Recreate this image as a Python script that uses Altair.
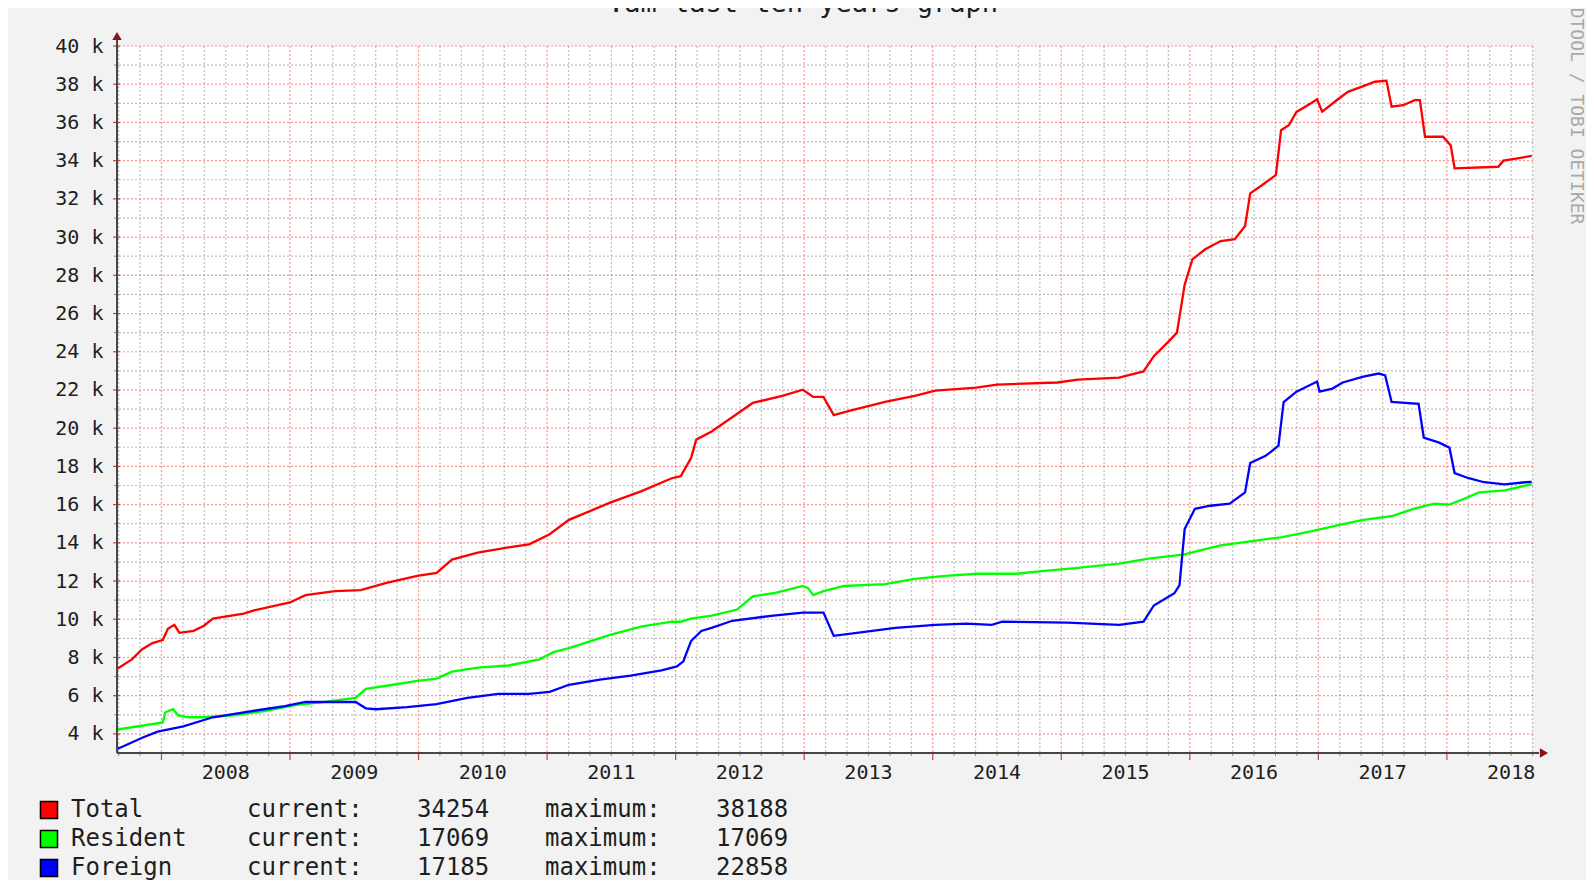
import altair as alt
import pandas as pd

# ---------------- data ----------------
SERIES = ["Total", "Resident", "Foreign"]
COLORS = ["#ff0000", "#00ff00", "#0000ff"]

total_year = [2007.66, 2007.77, 2007.85, 2007.93, 2008.01, 2008.05, 2008.10, 2008.14, 2008.25, 2008.33,
              2008.40, 2008.64, 2008.72, 2009.00, 2009.12, 2009.35, 2009.55, 2009.75, 2009.99, 2010.14,
              2010.26, 2010.46, 2010.70, 2010.86, 2011.02, 2011.17, 2011.49, 2011.73, 2011.97, 2012.04,
              2012.12, 2012.16, 2012.28, 2012.44, 2012.60, 2012.83, 2012.99, 2013.07, 2013.15, 2013.23,
              2013.35, 2013.63, 2013.86, 2014.02, 2014.34, 2014.50, 2014.97, 2015.13, 2015.45, 2015.64,
              2015.72, 2015.84, 2015.90, 2015.96, 2016.02, 2016.12, 2016.24, 2016.35, 2016.43, 2016.47,
              2016.55, 2016.67, 2016.71, 2016.77, 2016.83, 2016.95, 2016.99, 2017.03, 2017.15, 2017.23,
              2017.35, 2017.44, 2017.53, 2017.57, 2017.66, 2017.75, 2017.79, 2017.83, 2017.97, 2018.03,
              2018.06, 2018.40, 2018.44, 2018.55, 2018.66]
total_val = [7420, 7900, 8430, 8750, 8910, 9500, 9710, 9290, 9390, 9660,
             10030, 10300, 10460, 10880, 11260, 11470, 11520, 11900, 12270, 12430,
             13120, 13490, 13760, 13920, 14450, 15200, 16100, 16690, 17380, 17490,
             18440, 19400, 19830, 20570, 21320, 21690, 22010, 21640, 21640, 20680,
             20900, 21370, 21690, 21960, 22120, 22280, 22390, 22540, 22650, 22970,
             23770, 24570, 25000, 27500, 28830, 29360, 29790, 29890, 30580, 32290,
             32660, 33250, 35590, 35850, 36550, 37030, 37210, 36560, 37200, 37600,
             37900, 38130, 38188, 36820, 36900, 37170, 37170, 35250, 35250, 34800,
             33600, 33680, 34000, 34120, 34254]

resident_year = [2007.66, 2008.01, 2008.03, 2008.09, 2008.13, 2008.21, 2008.33, 2008.56, 2008.80, 2009.04,
                 2009.27, 2009.51, 2009.59, 2009.75, 2009.99, 2010.14, 2010.26, 2010.46, 2010.70, 2010.94,
                 2011.05, 2011.17, 2011.49, 2011.73, 2011.97, 2012.04, 2012.12, 2012.28, 2012.48, 2012.60,
                 2012.76, 2012.99, 2013.03, 2013.07, 2013.15, 2013.31, 2013.63, 2013.86, 2014.10, 2014.34,
                 2014.65, 2014.89, 2015.13, 2015.45, 2015.68, 2015.96, 2016.08, 2016.24, 2016.47, 2016.71,
                 2016.95, 2017.19, 2017.35, 2017.58, 2017.74, 2017.90, 2018.02, 2018.14, 2018.25, 2018.45,
                 2018.66]
resident_val = [4230, 4600, 5130, 5290, 4970, 4870, 4870, 4970, 5190, 5510,
                5670, 5880, 6360, 6520, 6780, 6890, 7260, 7470, 7580, 7900,
                8280, 8490, 9180, 9610, 9870, 9870, 10030, 10190, 10510, 11200,
                11360, 11740, 11630, 11260, 11470, 11740, 11840, 12110, 12270, 12380,
                12380, 12540, 12690, 12910, 13170, 13390, 13600, 13870, 14080, 14290,
                14610, 14980, 15200, 15410, 15780, 16050, 16000, 16320, 16640, 16740,
                17069]

foreign_year = [2007.66, 2007.73, 2007.85, 2007.97, 2008.17, 2008.40, 2008.64, 2008.80, 2008.96, 2009.12,
                2009.51, 2009.59, 2009.67, 2009.91, 2010.14, 2010.38, 2010.62, 2010.86, 2011.02, 2011.17,
                2011.41, 2011.65, 2011.89, 2012.01, 2012.06, 2012.12, 2012.20, 2012.28, 2012.44, 2012.76,
                2012.99, 2013.15, 2013.23, 2013.47, 2013.71, 2014.02, 2014.26, 2014.46, 2014.54, 2015.05,
                2015.45, 2015.64, 2015.72, 2015.88, 2015.92, 2015.96, 2016.04, 2016.16, 2016.31, 2016.43,
                2016.47, 2016.59, 2016.69, 2016.73, 2016.83, 2016.99, 2017.01, 2017.11, 2017.19, 2017.35,
                2017.47, 2017.52, 2017.57, 2017.78, 2017.82, 2017.94, 2018.02, 2018.06, 2018.17, 2018.29,
                2018.45, 2018.61, 2018.66]
foreign_val = [3220, 3430, 3800, 4120, 4390, 4870, 5130, 5290, 5450, 5670,
               5670, 5340, 5290, 5400, 5560, 5880, 6090, 6090, 6200, 6570,
               6840, 7050, 7320, 7530, 7800, 8860, 9390, 9550, 9920, 10190,
               10350, 10350, 9130, 9340, 9550, 9710, 9770, 9710, 9870, 9820,
               9710, 9870, 10720, 11360, 11790, 14720, 15780, 15940, 16050, 16640,
               18180, 18550, 19080, 21370, 21910, 22440, 21910, 22070, 22390, 22700,
               22858, 22760, 21370, 21270, 19510, 19240, 18980, 17650, 17380, 17170,
               17060, 17170, 17185]

year_labels = ["2008", "2009", "2010", "2011", "2012", "2013", "2014", "2015", "2016", "2017", "2018"]
title_text = ".am last ten years graph"
watermark = "RRDTOOL / TOBI OETIKER"

assert len(total_year) == len(total_val)
assert len(resident_year) == len(resident_val)
assert len(foreign_year) == len(foreign_val)

# ---------------- layout / style ----------------
W, H = 1416, 707
X_DOMAIN = [2007.654, 2018.67]
Y_DOMAIN = [3000, 40000]
FONT = "DejaVu Sans Mono"
TXT = "#1e1e1e"

xsc = alt.Scale(domain=X_DOMAIN, nice=False, zero=False)
ysc = alt.Scale(domain=Y_DOMAIN, nice=False, zero=False)

major_x = [int(y) for y in year_labels]
minor_x = [y + m / 12 for y in range(2007, 2019) for m in (2, 4, 6, 8, 10)
           if X_DOMAIN[0] < y + m / 12 < X_DOMAIN[1]]
major_y = list(range(4000, 40001, 2000))
minor_y = list(range(5000, 40000, 2000))

one = pd.DataFrame({"d": [0]})


def vrules(vals, color, opacity):
    return alt.Chart(pd.DataFrame({"t": vals})).mark_rule(
        color=color, opacity=opacity, strokeDash=[2, 2], strokeWidth=1.2
    ).encode(x=alt.X("t:Q", scale=xsc, axis=None))


def hrules(vals, color, opacity):
    return alt.Chart(pd.DataFrame({"v": vals})).mark_rule(
        color=color, opacity=opacity, strokeDash=[2, 2], strokeWidth=1.2
    ).encode(y=alt.Y("v:Q", scale=ysc, axis=None))


grid_minor_v = vrules(minor_x, "#b8b8b8", 0.9)
grid_minor_h = hrules(minor_y, "#b8b8b8", 0.9)
grid_major_v = vrules(major_x, "#ff0000", 0.42)
grid_major_h = hrules(major_y, "#ff0000", 0.42)


def series_layer(years, vals, color, with_axes=False):
    df = pd.DataFrame({"year": years, "value": vals})
    yax = None
    if with_axes:
        yax = alt.Axis(values=major_y, labelExpr="floor(datum.value / 1000) + ' k'", title=None,
                       domain=False, ticks=False, grid=False, labelFont=FONT, labelFontSize=20,
                       labelColor=TXT, labelPadding=14, labelAlign="right", labelBaseline="middle",
                       labelOverlap=False, labelFlush=False)
    return alt.Chart(df).mark_line(color=color, strokeWidth=2.3, interpolate="linear").encode(
        x=alt.X("year:Q", scale=xsc, axis=None),
        y=alt.Y("value:Q", scale=ysc, axis=yax),
    )


line_total = series_layer(total_year, total_val, COLORS[0], with_axes=True)
line_res = series_layer(resident_year, resident_val, COLORS[1])
line_for = series_layer(foreign_year, foreign_val, COLORS[2])

# year labels, centred in each year as rrdtool does
xlab_df = pd.DataFrame({"label": year_labels, "pos": [int(l) + 0.5 for l in year_labels]})
x_labels = alt.Chart(xlab_df).mark_text(align="center", baseline="middle", font=FONT, fontSize=20,
                                        color=TXT).encode(
    x=alt.X("pos:Q", scale=xsc, axis=None), y=alt.value(H + 20), text="label:N")

# ticks on the axes
ticks_major = alt.Chart(pd.DataFrame({"t": major_x})).mark_rule(color="#d04040", strokeWidth=1.2).encode(
    x=alt.X("t:Q", scale=xsc, axis=None), y=alt.value(H), y2=alt.value(H + 7))
ticks_minor = alt.Chart(pd.DataFrame({"t": minor_x})).mark_rule(color="#909090", strokeWidth=1).encode(
    x=alt.X("t:Q", scale=xsc, axis=None), y=alt.value(H), y2=alt.value(H + 3))
yticks_major = alt.Chart(pd.DataFrame({"v": major_y})).mark_rule(color="#d04040", strokeWidth=1.2).encode(
    y=alt.Y("v:Q", scale=ysc, axis=None), x=alt.value(-4), x2=alt.value(3))
yticks_minor = alt.Chart(pd.DataFrame({"v": minor_y})).mark_rule(color="#909090", strokeWidth=1).encode(
    y=alt.Y("v:Q", scale=ysc, axis=None), x=alt.value(-3), x2=alt.value(2))

# axis lines and arrows
x_axis_line = alt.Chart(one).mark_rule(color="#474747", strokeWidth=2).encode(
    x=alt.value(0), x2=alt.value(W + 6), y=alt.value(H))
y_axis_line = alt.Chart(one).mark_rule(color="#474747", strokeWidth=2).encode(
    x=alt.value(0), y=alt.value(-6), y2=alt.value(H))
arrow_up = alt.Chart(one).mark_point(shape="triangle-up", filled=True, size=90, color="#8b1212",
                                     opacity=1).encode(x=alt.value(0), y=alt.value(-10))
arrow_right = alt.Chart(one).mark_point(shape="triangle-right", filled=True, size=90, color="#8b1212",
                                        opacity=1).encode(x=alt.value(W + 11), y=alt.value(H))

# legend (rrdtool style)
legend_df = pd.DataFrame({
    "series": SERIES,
    "current": [str(total_val[-1]), str(resident_val[-1]), str(foreign_val[-1])],
    "maximum": [str(max(total_val)), str(max(resident_val)), str(max(foreign_val))],
})
ly = alt.Y("series:N", scale=alt.Scale(type="point", domain=SERIES, range=[764, 822], padding=0), axis=None)
leg_base = alt.Chart(legend_df)
leg_box = leg_base.mark_square(size=290, filled=True, stroke="black", strokeWidth=1.5, opacity=1).encode(
    x=alt.value(-68), y=ly,
    color=alt.Color("series:N", scale=alt.Scale(domain=SERIES, range=COLORS), legend=None))


def leg_text(xpos, text):
    return leg_base.mark_text(align="left", baseline="middle", font=FONT, fontSize=24, color=TXT).encode(
        x=alt.value(xpos), y=ly, text=text)


leg_name = leg_text(-46, alt.Text("series:N"))
leg_cur_lbl = leg_text(130, alt.value("current:"))
leg_cur = leg_text(300, alt.Text("current:N"))
leg_max_lbl = leg_text(428, alt.value("maximum:"))
leg_max = leg_text(599, alt.Text("maximum:N"))

title = alt.Chart(one).mark_text(align="center", baseline="alphabetic", font=FONT, fontSize=27,
                                 color=TXT, text=title_text).encode(x=alt.value(686), y=alt.value(-34))
wm = alt.Chart(one).mark_text(align="left", baseline="middle", font=FONT, fontSize=18, angle=90,
                              color="#a8a8a8", text=watermark).encode(x=alt.value(1459), y=alt.value(-60))

chart = alt.layer(
    grid_minor_v, grid_minor_h, grid_major_v, grid_major_h,
    line_total, line_res, line_for,
    ticks_minor, ticks_major, yticks_minor, yticks_major,
    x_axis_line, y_axis_line, arrow_up, arrow_right,
    x_labels,
    leg_box, leg_name, leg_cur_lbl, leg_cur, leg_max_lbl, leg_max,
    title, wm,
).resolve_scale(y="independent").properties(
    width=W, height=H,
    autosize=alt.AutoSizeParams(type="none"),
    padding={"left": 109, "top": 38, "right": 53, "bottom": 127},
    background="#f2f2f2",
).configure_view(fill="white", stroke=None)

chart.save("out.html", embed_options={"renderer": "svg", "actions": False})
